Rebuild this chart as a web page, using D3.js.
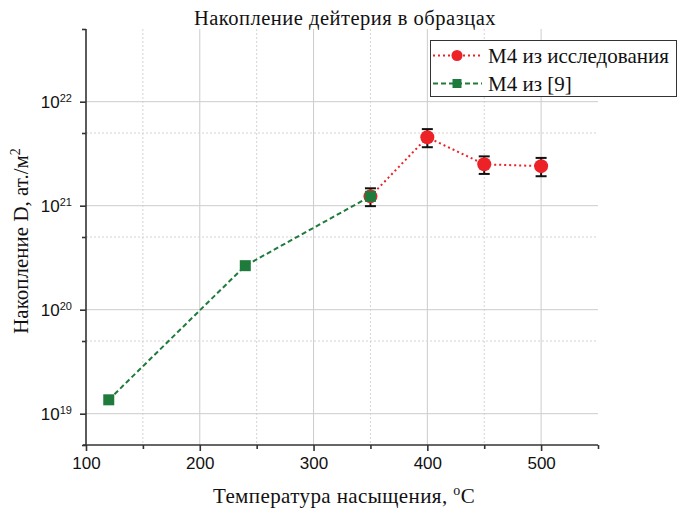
<!DOCTYPE html>
<html>
<head>
<meta charset="utf-8">
<script src="https://cdn.jsdelivr.net/npm/d3@7"></script>
<style>
body { margin: 0; background: #fff; }
</style>
</head>
<body>
<script>
// data
var studyTemp = [350, 400, 450, 500];
var studyD = [1.23e21, 4.55e21, 2.5e21, 2.4e21];
var studyErr = [0.24e21, 0.9e21, 0.48e21, 0.48e21];
var refTemp = [120, 240, 350];
var refD = [1.36e19, 2.65e20, 1.23e21];
var xTicks = [100, 200, 300, 400, 500];
var xMinor = [150, 250, 350, 450, 550];
var yTicks = [1e19, 1e20, 1e21, 1e22];
var yMinor = [5e18, 5e19, 5e20, 5e21, 5e22];
var seriesNames = ["М4 из исследования", "М4 из [9]"];

var W = 677, H = 514;
// plot frame (window.top is reserved, so prefixed names)
var pLeft = 86, pRight = 598, pTop = 29, pBottom = 445;
var red = "#ec2227", green = "#1f7b3b";
var serif = "'Liberation Serif','Times New Roman',serif";
var sans = "'Liberation Sans',Arial,sans-serif";

var svg = d3.select("body").append("svg")
    .attr("width", W)
    .attr("height", H);

var x = d3.scaleLinear().domain([100, 550]).range([pLeft, pRight]);
var y = d3.scaleLog().domain([5e18, 5e22]).range([pBottom, pTop]);

// grid
var grid = svg.append("g").attr("id", "grid");
grid.selectAll("line.vmaj").data(xTicks.slice(1)).enter().append("line")
    .attr("x1", function(d) { return x(d); }).attr("x2", function(d) { return x(d); })
    .attr("y1", pTop).attr("y2", pBottom)
    .style("stroke", "#cccccc").style("stroke-width", 1);
grid.selectAll("line.vmin").data(xMinor.slice(0, 4)).enter().append("line")
    .attr("x1", function(d) { return x(d); }).attr("x2", function(d) { return x(d); })
    .attr("y1", pTop).attr("y2", pBottom)
    .style("stroke", "#d4d4d4").style("stroke-width", 1).style("stroke-dasharray", "2,2");
grid.selectAll("line.hmaj").data(yTicks).enter().append("line")
    .attr("x1", pLeft).attr("x2", pRight)
    .attr("y1", function(d) { return y(d); }).attr("y2", function(d) { return y(d); })
    .style("stroke", "#cccccc").style("stroke-width", 1);
grid.selectAll("line.hmin").data(yMinor.slice(1, 4)).enter().append("line")
    .attr("x1", pLeft).attr("x2", pRight)
    .attr("y1", function(d) { return y(d); }).attr("y2", function(d) { return y(d); })
    .style("stroke", "#d4d4d4").style("stroke-width", 1).style("stroke-dasharray", "2,2");

// axes
var xAxis = svg.append("g").attr("transform", "translate(0," + pBottom + ")");
xAxis.call(d3.axisBottom(x).tickValues(xTicks).tickSize(6).tickPadding(6).tickFormat(d3.format("d")));
xAxis.append("g").call(d3.axisBottom(x).tickValues(xMinor).tickSize(4).tickFormat(""));
xAxis.selectAll("path.domain").remove();
xAxis.append("line").attr("x1", pLeft - 3).attr("x2", pRight).attr("y1", 0).attr("y2", 0);
xAxis.selectAll("line").style("stroke", "#333").style("stroke-width", 1.6);
xAxis.selectAll("text").style("font-family", sans).style("font-size", "17px").style("fill", "#111");

var yAxis = svg.append("g").attr("transform", "translate(" + pLeft + ",0)");
yAxis.call(d3.axisLeft(y).tickValues(yTicks).tickSize(6).tickFormat(""));
yAxis.append("g").call(d3.axisLeft(y).tickValues(yMinor).tickSize(4).tickFormat(""));
yAxis.selectAll("path.domain").remove();
yAxis.append("line").attr("x1", 0).attr("x2", 0).attr("y1", pTop).attr("y2", pBottom + 1);
yAxis.selectAll("line").style("stroke", "#333").style("stroke-width", 1.6);

// y tick labels as 10^n
var yLab = svg.append("g").selectAll("text").data(yTicks).enter().append("text")
    .attr("x", 72).attr("y", function(d) { return y(d) + 6; })
    .attr("text-anchor", "end")
    .style("font-family", sans).style("font-size", "17px").style("fill", "#111");
yLab.append("tspan").text("10");
yLab.append("tspan").attr("dy", -6).style("font-size", "11px")
    .text(function(d) { return Math.round(Math.log10(d)); });

// lines
var line = d3.line()
    .x(function(d) { return x(d[0]); })
    .y(function(d) { return y(d[1]); });

svg.append("path")
    .datum(d3.zip(studyTemp, studyD))
    .attr("d", line)
    .style("fill", "none").style("stroke", red)
    .style("stroke-width", 2).style("stroke-dasharray", "2,3");

// error bars
var eb = svg.append("g").selectAll("g").data(d3.range(studyTemp.length)).enter().append("g")
    .style("stroke", "#111").style("stroke-width", 2);
eb.append("line")
    .attr("x1", function(i) { return x(studyTemp[i]); })
    .attr("x2", function(i) { return x(studyTemp[i]); })
    .attr("y1", function(i) { return y(studyD[i] + studyErr[i]); })
    .attr("y2", function(i) { return y(studyD[i] - studyErr[i]); });
eb.append("line")
    .attr("x1", function(i) { return x(studyTemp[i]) - 5.5; })
    .attr("x2", function(i) { return x(studyTemp[i]) + 5.5; })
    .attr("y1", function(i) { return y(studyD[i] + studyErr[i]); })
    .attr("y2", function(i) { return y(studyD[i] + studyErr[i]); });
eb.append("line")
    .attr("x1", function(i) { return x(studyTemp[i]) - 5.5; })
    .attr("x2", function(i) { return x(studyTemp[i]) + 5.5; })
    .attr("y1", function(i) { return y(studyD[i] - studyErr[i]); })
    .attr("y2", function(i) { return y(studyD[i] - studyErr[i]); });

svg.append("g").selectAll("circle").data(d3.zip(studyTemp, studyD)).enter().append("circle")
    .attr("cx", function(d) { return x(d[0]); })
    .attr("cy", function(d) { return y(d[1]); })
    .attr("r", 7)
    .style("fill", red);

svg.append("path")
    .datum(d3.zip(refTemp, refD))
    .attr("d", line)
    .style("fill", "none").style("stroke", green)
    .style("stroke-width", 2).style("stroke-dasharray", "5,3");

var sq = 11;
svg.append("g").selectAll("rect").data(d3.zip(refTemp, refD)).enter().append("rect")
    .attr("x", function(d) { return x(d[0]) - sq / 2; })
    .attr("y", function(d) { return y(d[1]) - sq / 2; })
    .attr("width", sq).attr("height", sq)
    .style("fill", green);

// legend
var lg = svg.append("g").attr("id", "legend");
lg.append("rect")
    .attr("x", 430.5).attr("y", 40.5).attr("width", 246).attr("height", 56)
    .style("fill", "#fff").style("stroke", "#333").style("stroke-width", 1);
var rows = [55.5, 83.5];
lg.append("line").attr("x1", 433).attr("x2", 482).attr("y1", rows[0]).attr("y2", rows[0])
    .style("stroke", red).style("stroke-width", 2).style("stroke-dasharray", "2,3");
lg.append("circle").attr("cx", 457).attr("cy", rows[0]).attr("r", 5.5).style("fill", red);
lg.append("line").attr("x1", 433).attr("x2", 482).attr("y1", rows[1]).attr("y2", rows[1])
    .style("stroke", green).style("stroke-width", 2).style("stroke-dasharray", "5,3");
lg.append("rect").attr("x", 452.5).attr("y", rows[1] - 4.5).attr("width", 9).attr("height", 9).style("fill", green);
lg.selectAll("text").data(seriesNames).enter().append("text")
    .attr("x", 488).attr("y", function(d, i) { return rows[i] + 7; })
    .style("font-family", serif).style("font-size", "21px").style("fill", "#111")
    .text(function(d) { return d; });

// title and axis labels
svg.append("text")
    .attr("x", 345).attr("y", 25).attr("text-anchor", "middle")
    .style("font-family", serif).style("font-size", "20.5px").style("letter-spacing", "0.5px")
    .style("fill", "#111")
    .text("Накопление дейтерия в образцах");

var xl = svg.append("text")
    .attr("x", 344).attr("y", 503).attr("text-anchor", "middle")
    .style("font-family", serif).style("font-size", "21px").style("letter-spacing", "0.4px")
    .style("fill", "#111");
xl.append("tspan").text("Температура насыщения, ");
xl.append("tspan").attr("dy", -8).style("font-size", "14px").text("o");
xl.append("tspan").attr("dy", 8).text("C");

var yl = svg.append("text")
    .attr("transform", "translate(28,241) rotate(-90)")
    .attr("text-anchor", "middle")
    .style("font-family", serif).style("font-size", "21px").style("fill", "#111");
yl.append("tspan").text("Накопление D, ат./м");
yl.append("tspan").attr("dy", -8).style("font-size", "14px").text("2");
</script>
</body>
</html>
